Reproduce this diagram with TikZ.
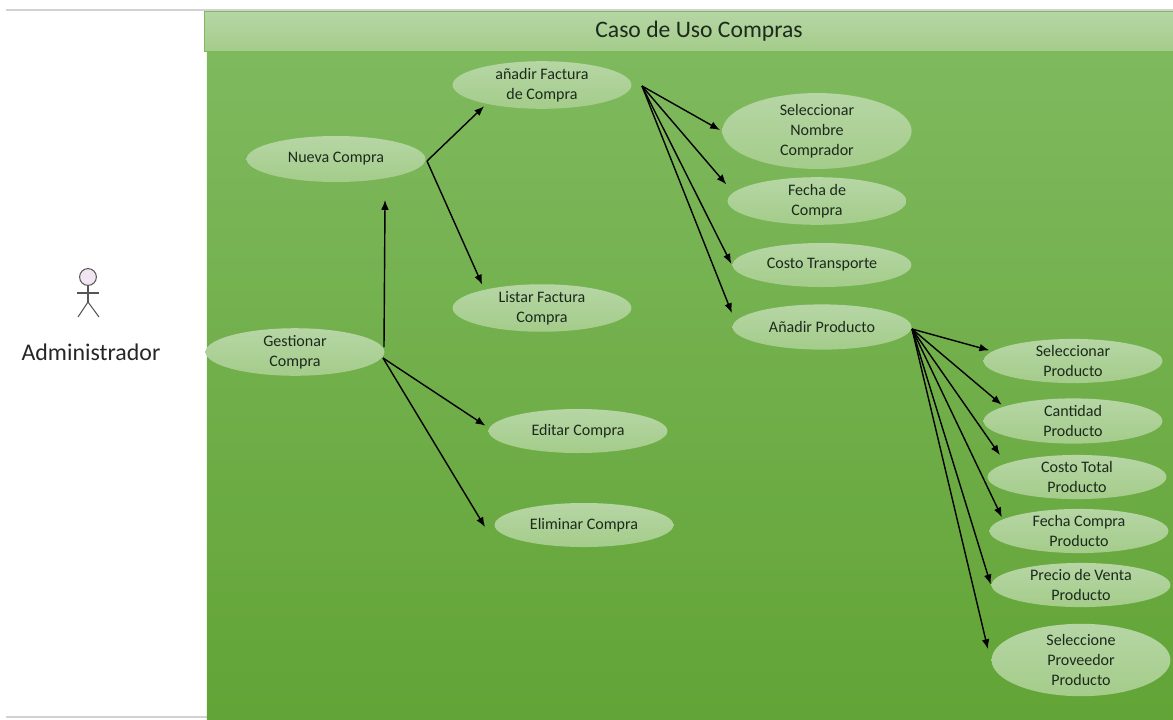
\documentclass[tikz,border=0pt]{standalone}
\usepackage{fontspec}
\setmainfont{Carlito}
\usetikzlibrary{shapes.geometric, arrows.meta}

\definecolor{panelTop}{HTML}{7FB95E}
\definecolor{panelBottom}{HTML}{62A436}
\definecolor{headTop}{HTML}{B6D6A5}
\definecolor{headBottom}{HTML}{A4CC8A}
\definecolor{textDark}{HTML}{1C2A1C}
\definecolor{actorLine}{HTML}{555555}
\definecolor{ruleGray}{HTML}{D2D2D2}

\tikzset{
  usecase/.style={ellipse, top color=headTop, bottom color=headBottom, inner sep=0pt, align=center,
    text=textDark, font=\fontsize{11.4}{14.2}\selectfont},
  wide/.style={usecase, minimum width=4.47cm, minimum height=1.1cm},
  actorstroke/.style={draw=actorLine, line width=0.75pt},
  rulegray/.style={draw=ruleGray, line width=1.3pt}
}

\begin{document}
\begin{tikzpicture}[>={Latex[length=7pt, width=5.5pt]}, x=0.025cm, y=-0.025cm, line width=1pt]

\useasboundingbox (0, 0) rectangle (1173, 719);

\draw[rulegray] (6, 10) -- (1173, 10);
\draw[rulegray] (6, 717) -- (207, 717);

\node (panel) at (690, 385) [minimum width=24.15cm, minimum height=16.7cm, inner sep=0pt, top color=panelTop, bottom color=panelBottom] {};
\node (header) at (689, 31) [minimum width=24.2cm, minimum height=1cm, inner sep=0pt, top color=headTop, bottom color=headBottom, draw=panelTop, line width=0.6pt] {};
\node (title) at (699, 31.5) [font=\fontsize{16.8}{20}\selectfont, text=textDark] {Caso de Uso Compras};

\node (actorhead) at (88, 277) [circle, actorstroke, fill=violet!10, minimum size=0.42cm, inner sep=0pt] {};
\coordinate (actorarml) at (77, 293);
\coordinate (actorarmr) at (99, 293);
\coordinate (actorhip) at (88, 302);
\coordinate (actorlegl) at (78, 317);
\coordinate (actorlegr) at (99, 317);
\draw[actorstroke] (actorhead.south) -- (actorhip);
\draw[actorstroke] (actorarml) -- (actorarmr);
\draw[actorstroke] (actorlegl) -- (actorhip) -- (actorlegr);
\node (actorname) at (91, 352) [font=\fontsize{17}{20}\selectfont, text=black!85] {Administrador};

\node (gestionar) at (295, 352) [wide] {Gestionar\\Compra};
\node (nueva) at (336, 159) [wide, minimum height=1.15cm] {Nueva Compra};
\node (anadir) at (542, 85) [wide, minimum height=1cm] {añadir Factura\\de Compra};
\node (listar) at (542, 308) [wide, minimum height=1.05cm] {Listar Factura\\Compra};
\node (editar) at (578, 431) [wide] {Editar Compra};
\node (eliminar) at (584, 525) [wide] {Eliminar Compra};

\node (nombre) at (817, 131) [usecase, minimum width=4.73cm, minimum height=1.48cm] {Seleccionar\\Nombre\\Comprador};
\node (fecha) at (817, 201) [wide, minimum height=1.13cm] {Fecha de\\Compra};
\node (costo) at (822, 265) [wide] {Costo Transporte};
\node (producto) at (822, 327) [wide, minimum height=1.13cm] {Añadir Producto};

\node (selproducto) at (1073, 361) [wide] {Seleccionar\\Producto};
\node (cantidad) at (1073, 421) [wide, minimum height=1.13cm] {Cantidad\\Producto};
\node (costototal) at (1077, 477) [wide, minimum height=1.05cm] {Costo Total\\Producto};
\node (fechaprod) at (1079, 531) [wide] {Fecha Compra\\Producto};
\node (precio) at (1081, 585) [wide] {Precio de Venta\\Producto};
\node (proveedor) at (1081, 660) [usecase, minimum width=4.47cm, minimum height=1.55cm] {Seleccione\\Proveedor\\Producto};

\coordinate (gestionarup) at (384, 347);
\coordinate (gestionarout) at (383, 358);
\coordinate (nuevaout) at (427, 161);
\coordinate (anadirout) at (642, 86);
\coordinate (productoout) at (912, 329);
\coordinate (eliminarin) at (485, 527);

\path[->] (gestionarup) edge [shorten >=15pt] (nueva.338.4);
\path[->] (gestionarout) edge [shorten >=2.8pt] (editar.178.5);
\path[->] (gestionarout) edge (eliminarin);

\path[->] (nuevaout) edge [shorten >=2pt] (anadir.199);
\path[->] (nuevaout) edge [shorten >=3.6pt] (listar.162);

\path[->] (anadirout) edge [shorten >=1.4pt] (nombre.west);
\path[->] (anadirout) edge [shorten >=7.3pt] (fecha.174);
\path[->] (anadirout) edge [shorten >=1pt] (costo.west);
\path[->] (anadirout) edge [shorten >=6pt] (producto.176);

\path[->] (productoout) edge [shorten >=2pt] (selproducto.173);
\path[->] (productoout) edge [shorten >=1.6pt] (cantidad.168);
\path[->] (productoout) edge [shorten >=7.1pt] (costototal.169);
\path[->] (productoout) edge [shorten >=1.3pt] (fechaprod.171.6);
\path[->] (productoout) edge [shorten >=0.5pt] (precio.west);
\path[->] (productoout) edge [shorten >=11.4pt] (proveedor.183.5);

\end{tikzpicture}
\end{document}
